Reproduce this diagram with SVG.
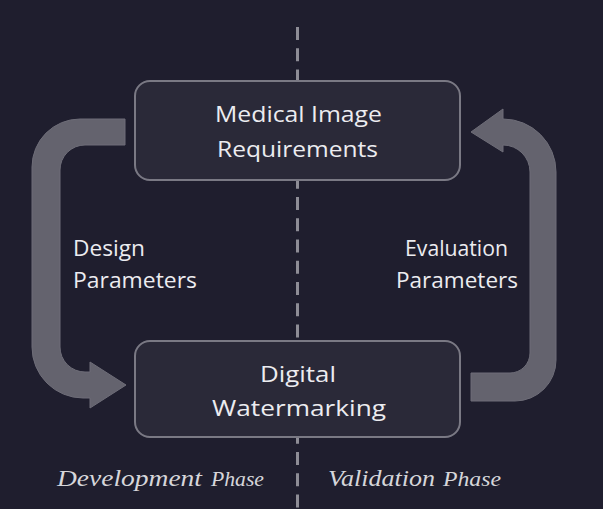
<svg xmlns="http://www.w3.org/2000/svg" width="603" height="509" viewBox="0 0 603 509">
<style>
.bg{fill:#1f1e2e}
.box{fill:#2a2938;stroke:#7a7984;stroke-width:2}
.band{fill:#64636e;stroke:#6e6d78;stroke-width:1}
.lbl{font-family:"Open Sans","Liberation Sans",sans-serif;font-size:21px;fill:#ececf0}
.ph{font-family:"Liberation Serif",serif;font-style:italic;fill:#d6d6da}
.div{stroke:#8e8d96;stroke-width:3;stroke-dasharray:13 8.25;fill:none}
</style>
<rect class="bg" x="0" y="0" width="603" height="509"/>
<line class="div" x1="297.5" y1="27" x2="297.5" y2="509"/>
<g id="connectors">
<g id="design-arrow">
<path class="band" d="M125,119 L80,119 A48,48 0 0 0 32,167 L32,347 A51,51 0 0 0 83,398 L90,398 L90,408 L126,385 L90,362 L90,372 L85,372 A25,25 0 0 1 60,347 L60,170 A25,25 0 0 1 85,145 L125,145 Z"/>
<text class="lbl" x="73" y="256" textLength="72" lengthAdjust="spacingAndGlyphs">Design</text>
<text class="lbl" x="73" y="288" textLength="124" lengthAdjust="spacingAndGlyphs">Parameters</text>
</g>
<g id="evaluation-arrow">
<path class="band" d="M471,373 L510,373 A20,20 0 0 0 530,353 L530,172 A27,27 0 0 0 503,145 L503,152 L471,132 L503,109 L503,119 A53,53 0 0 1 556,172 L556,360 A41,41 0 0 1 515,401 L471,401 Z"/>
<text class="lbl" x="405" y="256" textLength="103" lengthAdjust="spacingAndGlyphs">Evaluation</text>
<text class="lbl" x="396" y="288" textLength="122" lengthAdjust="spacingAndGlyphs">Parameters</text>
</g>
</g>
<g id="node-requirements">
<rect class="box" x="135" y="81" width="325" height="99" rx="15"/>
<text class="lbl" x="215" y="122" textLength="167" lengthAdjust="spacingAndGlyphs">Medical Image</text>
<text class="lbl" x="217" y="157" textLength="161" lengthAdjust="spacingAndGlyphs">Requirements</text>
</g>
<g id="node-watermarking">
<rect class="box" x="135" y="341" width="325" height="96" rx="15"/>
<text class="lbl" x="260" y="382" textLength="76" lengthAdjust="spacingAndGlyphs">Digital</text>
<text class="lbl" x="212" y="416" textLength="174" lengthAdjust="spacingAndGlyphs">Watermarking</text>
</g>
<g id="phase-labels">
<text class="ph" x="57" y="486" font-size="24" textLength="145" lengthAdjust="spacingAndGlyphs">Development</text>
<text class="ph" x="211" y="486" font-size="20" textLength="53" lengthAdjust="spacingAndGlyphs">Phase</text>
<text class="ph" x="328" y="486" font-size="24" textLength="107" lengthAdjust="spacingAndGlyphs">Validation</text>
<text class="ph" x="443" y="486" font-size="20" textLength="58" lengthAdjust="spacingAndGlyphs">Phase</text>
</g>
</svg>
